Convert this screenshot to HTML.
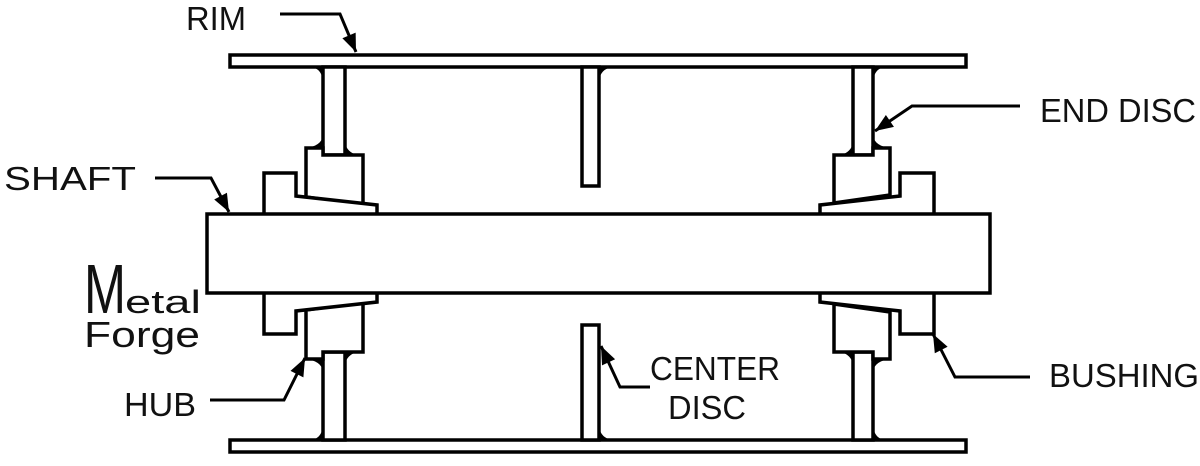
<!DOCTYPE html>
<html><head><meta charset="utf-8"><style>
html,body{margin:0;padding:0;background:#fff;width:1200px;height:466px;overflow:hidden}
svg{display:block}
text{font-family:"Liberation Sans",sans-serif;fill:#111}
</style></head><body>
<svg width="1200" height="466" viewBox="0 0 1200 466">
<defs>
<marker id="ah" viewBox="0 0 10 10" refX="10" refY="5" markerWidth="8" markerHeight="6" orient="auto" markerUnits="strokeWidth">
<path d="M0,1 L10,5 L0,9 z" fill="#000"/></marker>
</defs>
<g fill="#fff" stroke="#000" stroke-width="3.5" stroke-linejoin="miter">
<rect x="230" y="55" width="736" height="12"/>
<rect x="230" y="440" width="736" height="12"/>
<rect x="582" y="67" width="17" height="119"/>
<rect x="582" y="325" width="17" height="115"/>
<rect x="323" y="67" width="22" height="88"/>
<path d="M306,148 L323,148 L323,155 L363,155 L363,205 L306,197 Z"/>
<path d="M264,214 L264,173 L296,173 L296,196 L377,205 L377,214"/>
<rect x="323" y="352" width="22" height="88"/>
<path d="M306,359 L323,359 L323,352 L363,352 L363,302 L306,310 Z"/>
<path d="M264,293 L264,334 L296,334 L296,311 L377,302 L377,293"/>
<rect x="853" y="67" width="20" height="88"/>
<path d="M890,148 L873,148 L873,155 L834,155 L834,203 L890,195 Z"/>
<path d="M934,214 L934,173 L900,173 L900,196 L820,205 L820,214"/>
<rect x="853" y="352" width="20" height="88"/>
<path d="M890,359 L873,359 L873,352 L834,352 L834,304 L890,312 Z"/>
<path d="M934,293 L934,334 L900,334 L900,311 L820,302 L820,293"/>
<rect x="207" y="214" width="783" height="79"/>
</g>
<g fill="#000">
<path d="M312,67 L323,67 L323,80 Q321,69 312,67Z"/>
<path d="M306,148 L323,148 L323,136 Q321,146 306,148Z"/>
<path d="M345,155 L357,155 Q347,152 345,143Z"/>
<path d="M599,67 L612,67 Q601,69 599,80Z"/>
<path d="M312,440 L323,440 L323,427 Q321,438 312,440Z"/>
<path d="M306,359 L323,359 L323,371 Q321,361 306,359Z"/>
<path d="M345,352 L357,352 Q347,355 345,364Z"/>
<path d="M599,440 L612,440 Q601,438 599,427Z"/>
<path d="M884,67 L873,67 L873,80 Q875,69 884,67Z"/>
<path d="M890,148 L873,148 L873,136 Q875,146 890,148Z"/>
<path d="M853,155 L841,155 Q851,152 853,143Z"/>
<path d="M884,440 L873,440 L873,427 Q875,438 884,440Z"/>
<path d="M890,359 L873,359 L873,371 Q875,361 890,359Z"/>
<path d="M853,352 L841,352 Q851,355 853,364Z"/>
</g>
<g fill="none" stroke="#000" stroke-width="3" marker-end="url(#ah)">
<path d="M280,14 L340,14 L356,52"/>
<path d="M1020,106 L912,106 L875,131"/>
<path d="M155,178 L211,178 L229,212"/>
<path d="M210,400 L284,400 L305,358"/>
<path d="M650,387 L620,387 L601,346"/>
<path d="M1030,377 L955,377 L933,334"/>
</g>
<text x="186" y="30" font-size="33" textLength="60" lengthAdjust="spacingAndGlyphs">RIM</text>
<text x="1040" y="122" font-size="33" textLength="156" lengthAdjust="spacingAndGlyphs">END DISC</text>
<text x="4" y="190" font-size="33" textLength="132" lengthAdjust="spacingAndGlyphs">SHAFT</text>
<text x="124" y="416" font-size="33" textLength="72" lengthAdjust="spacingAndGlyphs">HUB</text>
<text x="650" y="380" font-size="33" textLength="130" lengthAdjust="spacingAndGlyphs">CENTER</text>
<text x="668" y="419" font-size="33" textLength="78" lengthAdjust="spacingAndGlyphs">DISC</text>
<text x="1049" y="387" font-size="33" textLength="150" lengthAdjust="spacingAndGlyphs">BUSHING</text>
<text x="84" y="313" font-size="70" textLength="42" lengthAdjust="spacingAndGlyphs">M</text>
<text x="125" y="313" font-size="32" textLength="76" lengthAdjust="spacingAndGlyphs">etal</text>
<text x="84" y="347" font-size="36" textLength="116" lengthAdjust="spacingAndGlyphs">Forge</text>
</svg>
</body></html>
